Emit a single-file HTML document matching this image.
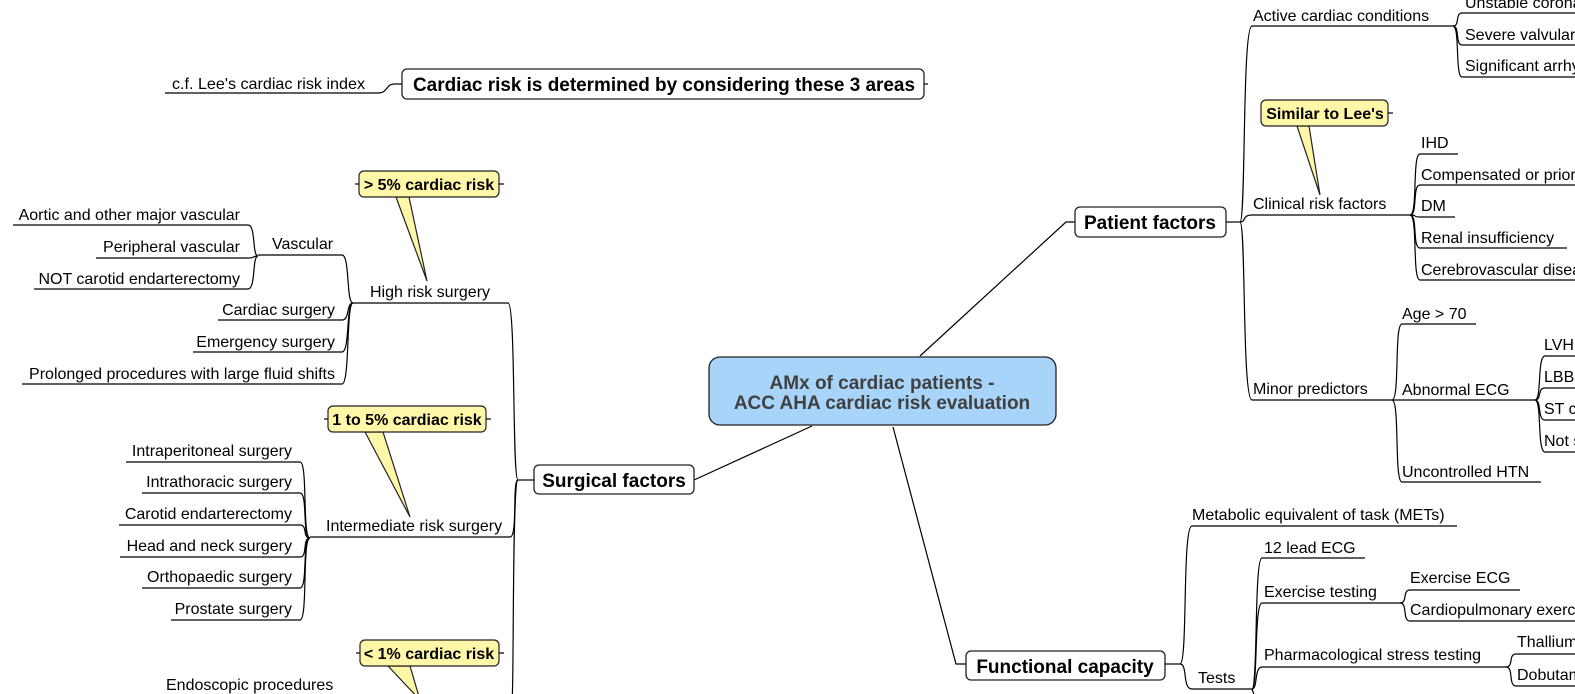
<!DOCTYPE html>
<html><head><meta charset="utf-8"><style>
html,body{margin:0;padding:0;background:#fff;width:1575px;height:694px;overflow:hidden}
svg{display:block}
text{font-family:"Liberation Sans",Arial,sans-serif;font-size:16px;fill:#000}
.b{font-weight:bold;font-size:19px}
.c{font-weight:bold;font-size:16px}
path,line{fill:none;stroke:#000;stroke-width:1.2}
.box{fill:#fff;stroke:#222;stroke-width:1.3}
.call{fill:#fff7a8;stroke:#222;stroke-width:1.2}
</style></head><body>
<svg width="1575" height="694" viewBox="0 0 1575 694">
<!-- main connectors -->
<line x1="694" y1="480" x2="812" y2="426"/>
<path d="M920 356 L1066 222 L1075 222"/>
<path d="M893 427 L956 664 L966 664"/>

<!-- Top box -->
<rect class="box" x="402" y="69" width="522" height="30" rx="5"/>
<text class="b" x="413" y="91" textLength="502" lengthAdjust="spacingAndGlyphs">Cardiac risk is determined by considering these 3 areas</text>
<line x1="924" y1="84" x2="928" y2="84"/>
<path d="M402 84 L394 84 C386 84 388 93 378 93 L165 93"/>
<text x="172" y="89" textLength="193" lengthAdjust="spacingAndGlyphs">c.f. Lee's cardiac risk index</text>

<!-- Center -->
<rect x="709" y="357" width="347" height="68" rx="11" fill="#a8d4fa" stroke="#222" stroke-width="1.3"/>
<text class="b" x="882" y="389" text-anchor="middle" style="fill:#404040">AMx of cardiac patients -</text>
<text class="b" x="882" y="409" text-anchor="middle" style="fill:#404040">ACC AHA cardiac risk evaluation</text>

<!-- Surgical factors -->
<rect class="box" x="534" y="465" width="160" height="29" rx="5"/>
<text class="b" x="614" y="487" text-anchor="middle">Surgical factors</text>
<line x1="518" y1="480" x2="534" y2="480"/>
<!-- trunk -->
<path d="M518 480 C512 480 516 303 508 303 L353 303"/>
<path d="M518 480 C512 480 518 537 510 537 L310 537"/>
<path d="M518 480 C512 480 514 694 512 700"/>
<text x="370" y="297">High risk surgery</text>
<text x="326" y="531">Intermediate risk surgery</text>

<!-- High risk children -->
<path d="M353 303 C346 303 350 255 342 255 L258 255"/>
<text x="272" y="249">Vascular</text>
<path d="M353 303 C346 303 350 320 342 320 L218 320"/>
<text x="335" y="315" text-anchor="end">Cardiac surgery</text>
<path d="M353 303 C346 303 350 352 342 352 L193 352"/>
<text x="335" y="347" text-anchor="end">Emergency surgery</text>
<path d="M353 303 C346 303 350 384 342 384 L22 384"/>
<text x="335" y="379" text-anchor="end">Prolonged procedures with large fluid shifts</text>
<path d="M258 256 C252 256 256 225 248 225 L13 225"/>
<text x="240" y="220" text-anchor="end">Aortic and other major vascular</text>
<path d="M258 256 C252 256 256 258 248 258 L96 258"/>
<text x="240" y="252" text-anchor="end">Peripheral vascular</text>
<path d="M258 256 C252 256 256 289 248 289 L34 289"/>
<text x="240" y="284" text-anchor="end">NOT carotid endarterectomy</text>

<!-- > 5% callout -->
<path class="call" d="M396 197 L427 281 L409 197 Z"/>
<rect class="call" x="359" y="171" width="140" height="26" rx="5"/>
<line x1="355" y1="184" x2="359" y2="184"/><line x1="499" y1="184" x2="504" y2="184"/>
<text class="c" x="429" y="190" text-anchor="middle">&gt; 5% cardiac risk</text>

<!-- Intermediate children -->
<path d="M310 538 C302 538 308 462 300 462 L126 462"/>
<text x="292" y="456" text-anchor="end">Intraperitoneal surgery</text>
<path d="M310 538 C302 538 308 493 300 493 L142 493"/>
<text x="292" y="487" text-anchor="end">Intrathoracic surgery</text>
<path d="M310 538 C302 538 308 525 300 525 L119 525"/>
<text x="292" y="519" text-anchor="end">Carotid endarterectomy</text>
<path d="M310 538 C302 538 308 557 300 557 L120 557"/>
<text x="292" y="551" text-anchor="end">Head and neck surgery</text>
<path d="M310 538 C302 538 308 588 300 588 L142 588"/>
<text x="292" y="582" text-anchor="end">Orthopaedic surgery</text>
<path d="M310 538 C302 538 308 620 300 620 L171 620"/>
<text x="292" y="614" text-anchor="end">Prostate surgery</text>

<!-- 1-5% callout -->
<path class="call" d="M365 432 L410 517 L383 432 Z"/>
<rect class="call" x="328" y="406" width="158" height="26" rx="5"/>
<line x1="324" y1="419" x2="328" y2="419"/><line x1="486" y1="419" x2="491" y2="419"/>
<text class="c" x="407" y="425" text-anchor="middle">1 to 5% cardiac risk</text>

<!-- <1% callout -->
<path class="call" d="M388 666 L420 700 L410 666 Z"/>
<rect class="call" x="360" y="640" width="139" height="26" rx="5"/>
<line x1="356" y1="653" x2="360" y2="653"/><line x1="499" y1="653" x2="504" y2="653"/>
<text class="c" x="429" y="659" text-anchor="middle">&lt; 1% cardiac risk</text>
<text x="166" y="690">Endoscopic procedures</text>

<!-- Patient factors -->
<rect class="box" x="1075" y="207" width="151" height="30" rx="5"/>
<text class="b" x="1150" y="229" text-anchor="middle">Patient factors</text>
<line x1="1226" y1="222" x2="1240" y2="222"/>
<path d="M1240 222 C1246 222 1242 26 1252 26 L1453 26"/>
<path d="M1240 222 C1246 222 1242 215 1252 215 L1410 215"/>
<path d="M1240 222 C1246 222 1242 400 1252 400 L1392 400"/>
<text x="1253" y="21">Active cardiac conditions</text>
<text x="1253" y="209">Clinical risk factors</text>
<text x="1253" y="394">Minor predictors</text>

<path d="M1453 26 C1460 26 1455 13 1462 13 L1580 13"/>
<path d="M1453 26 C1460 26 1455 45 1462 45 L1580 45"/>
<path d="M1453 26 C1460 26 1455 77 1462 77 L1580 77"/>
<text x="1465" y="8">Unstable coronary syndromes</text>
<text x="1465" y="40">Severe valvular disease</text>
<text x="1465" y="71">Significant arrhythmias</text>

<!-- Similar to Lee's -->
<path class="call" d="M1297 126 L1320 195 L1309 126 Z"/>
<rect class="call" x="1261" y="100" width="127" height="26" rx="5"/>
<line x1="1388" y1="113" x2="1393" y2="113"/>
<text class="c" x="1325" y="119" text-anchor="middle">Similar to Lee's</text>

<path d="M1410 215 C1418 215 1412 154 1420 154 L1458 154"/>
<path d="M1410 215 C1418 215 1412 185 1420 185 L1580 185"/>
<path d="M1410 215 C1418 215 1412 217 1420 217 L1455 217"/>
<path d="M1410 215 C1418 215 1412 248 1420 248 L1567 248"/>
<path d="M1410 215 C1418 215 1412 280 1420 280 L1580 280"/>
<text x="1421" y="148">IHD</text>
<text x="1421" y="180">Compensated or prior heart failure</text>
<text x="1421" y="211">DM</text>
<text x="1421" y="243">Renal insufficiency</text>
<text x="1421" y="275">Cerebrovascular disease</text>

<path d="M1392 400 C1400 400 1394 324 1402 324 L1476 324"/>
<path d="M1392 400 L1535 400"/>
<path d="M1392 400 C1400 400 1394 482 1402 482 L1541 482"/>
<text x="1402" y="319">Age &gt; 70</text>
<text x="1402" y="395">Abnormal ECG</text>
<text x="1402" y="477">Uncontrolled HTN</text>
<path d="M1535 400 C1542 400 1537 356 1545 356 L1580 356"/>
<path d="M1535 400 C1542 400 1537 388 1545 388 L1580 388"/>
<path d="M1535 400 C1542 400 1537 420 1545 420 L1580 420"/>
<path d="M1535 400 C1542 400 1537 452 1545 452 L1580 452"/>
<text x="1544" y="350">LVH</text>
<text x="1544" y="382">LBBB</text>
<text x="1544" y="414">ST changes</text>
<text x="1544" y="446">Not sinus rhythm</text>

<!-- Functional capacity -->
<rect class="box" x="966" y="651" width="199" height="29" rx="5"/>
<text class="b" x="1065" y="673" text-anchor="middle">Functional capacity</text>
<line x1="1165" y1="664" x2="1180" y2="664"/>
<path d="M1180 664 C1188 664 1182 526 1192 526 L1457 526"/>
<path d="M1180 664 C1188 664 1182 689 1192 689 L1252 689"/>
<text x="1192" y="520">Metabolic equivalent of task (METs)</text>
<text x="1198" y="683">Tests</text>
<path d="M1252 689 C1258 689 1254 558 1262 558 L1365 558"/>
<path d="M1252 689 C1258 689 1254 603 1262 603 L1400 603"/>
<path d="M1252 689 C1258 689 1254 667 1262 667 L1506 667"/>
<path d="M1252 689 L1256 700"/>
<text x="1264" y="553">12 lead ECG</text>
<text x="1264" y="597">Exercise testing</text>
<text x="1264" y="660">Pharmacological stress testing</text>
<path d="M1400 603 C1408 603 1402 590 1410 590 L1520 590"/>
<path d="M1400 603 C1408 603 1402 621 1410 621 L1580 621"/>
<text x="1410" y="583">Exercise ECG</text>
<text x="1410" y="615">Cardiopulmonary exercise testing</text>
<path d="M1506 667 C1514 667 1508 654 1516 654 L1580 654"/>
<path d="M1506 667 C1514 667 1508 686 1516 686 L1580 686"/>
<text x="1517" y="647">Thallium scan</text>
<text x="1517" y="680">Dobutamine stress echo</text>
</svg>
</body></html>
